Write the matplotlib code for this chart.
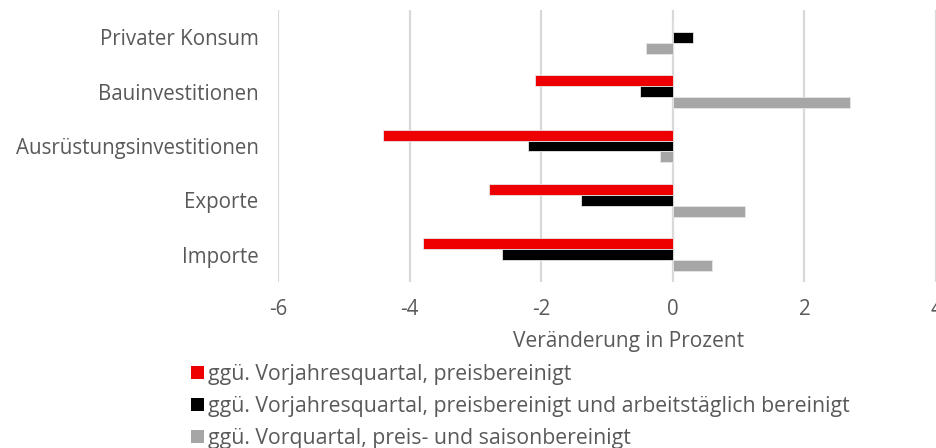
import matplotlib
matplotlib.use("Agg")
import matplotlib.pyplot as plt
import numpy as np
from matplotlib.patches import Patch

plt.rcParams['font.family'] = ['Open Sans', 'DejaVu Sans']

categories = ["Privater Konsum", "Bauinvestitionen", "Ausrüstungsinvestitionen", "Exporte", "Importe"]
vorjahr = [0.0, -2.1, -4.4, -2.8, -3.8]
vorjahr_arbeitstaeglich = [0.3, -0.5, -2.2, -1.4, -2.6]
vorquartal = [-0.4, 2.7, -0.2, 1.1, 0.6]
series_labels = [
    "ggü. Vorjahresquartal, preisbereinigt",
    "ggü. Vorjahresquartal, preisbereinigt und arbeitstäglich bereinigt",
    "ggü. Vorquartal, preis- und saisonbereinigt",
]
colors = ["#EE0000", "#000000", "#A6A6A6"]
xticks = [-6, -4, -2, 0, 2, 4]

W, H = 937, 448
fig = plt.figure(figsize=(W / 100, H / 100), dpi=100)
ax = fig.add_axes([278 / W, 1 - 282 / H, (936 - 278) / W, (282 - 10) / H])

y = np.arange(len(categories))
bh = 0.2
for i, (vals, c) in enumerate(zip([vorjahr, vorjahr_arbeitstaeglich, vorquartal], colors)):
    ax.barh(y + (i - 1) * bh, vals, height=bh, color=c, edgecolor="#E6E6E6", linewidth=0.6, zorder=3)

ax.set_xlim(-6, 4)
ax.set_ylim(len(categories) - 0.5, -0.5)
ax.set_xticks(xticks)
ax.set_xticklabels([str(t) for t in xticks])
ax.set_yticks(y)
ax.set_yticklabels(categories)
ax.grid(axis="x", color="#D9D9D9", linewidth=1.6, zorder=0)
for s in ax.spines.values():
    s.set_visible(False)
ax.tick_params(axis="both", length=0, labelsize=14.8, labelcolor="#595959")
ax.tick_params(axis="x", pad=12)
ax.tick_params(axis="y", pad=14)

fig.text(629 / W, 1 - 341 / H, "Veränderung in Prozent", ha="center", va="center",
         fontsize=15, color="#595959")

handles = [Patch(facecolor=c, edgecolor="none") for c in colors]
leg = fig.legend(handles, series_labels, loc="upper left", bbox_to_anchor=(191 / W, 1 - 364 / H),
                 frameon=False, fontsize=15.3, labelcolor="#595959", handlelength=0.6,
                 handleheight=0.6, handletextpad=0.2, labelspacing=0.52, borderaxespad=0,
                 borderpad=0)

fig.savefig("out.png", dpi=100)
